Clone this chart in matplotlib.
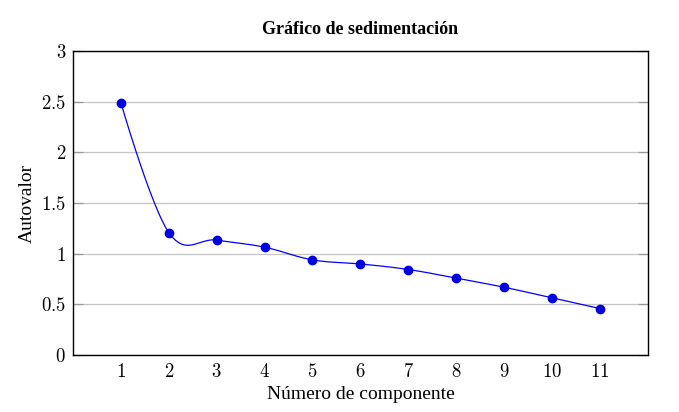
"""
Scree plot (Gráfico de sedimentación) with a pgfplots-like smooth line.
"""
import numpy as np
import matplotlib
matplotlib.use('Agg')
import matplotlib.pyplot as plt
from matplotlib.ticker import FuncFormatter

componentes = [1, 2, 3, 4, 5, 6, 7, 8, 9, 10, 11]
autovalores = [2.49, 1.21, 1.135, 1.065, 0.94, 0.90, 0.845, 0.76, 0.67, 0.565, 0.46]

y_ticks = [0, 0.5, 1, 1.5, 2, 2.5, 3]


def smooth_curve(xs, ys, tension=0.55, n=30):
    # tikz-style smooth: cubic bezier pieces, tangents from neighbours
    p = np.column_stack([xs, ys]).astype(float)
    k = tension / 3.0
    out = []
    last = len(p) - 2
    for i in range(len(p) - 1):
        p0 = p[i]
        p3 = p[i + 1]
        c1 = p0 if i == 0 else p0 + k * (p3 - p[i - 1])
        c2 = p3 if i == last else p3 - k * (p[i + 2] - p0)
        t = np.linspace(0, 1, n)[:, None]
        seg = ((1 - t) ** 3) * p0 + 3 * ((1 - t) ** 2) * t * c1 + 3 * (1 - t) * t ** 2 * c2 + t ** 3 * p3
        out.append(seg if i == 0 else seg[1:])
    seg = np.vstack(out)
    return seg[:, 0], seg[:, 1]


plt.rcParams['font.family'] = ['Liberation Serif', 'DejaVu Serif']
plt.rcParams['mathtext.fontset'] = 'cm'

fig = plt.figure(figsize=(6.79, 4.12), dpi=100)
ax = fig.add_axes([0.1075, 0.138, 0.8465, 0.738])

sx, sy = smooth_curve(componentes, autovalores)
ax.plot(sx, sy, color='#0000ff', linewidth=0.9, zorder=3)
ax.plot(componentes, autovalores, 'o', color='#0000e0', markersize=6, zorder=4)

ax.set_xlim(0, 12)
ax.set_ylim(0, 3)
ax.set_xticks(componentes)
ax.set_yticks(y_ticks)
fmt = FuncFormatter(lambda v, pos: f'${v:g}$')
ax.xaxis.set_major_formatter(fmt)
ax.yaxis.set_major_formatter(fmt)

ax.yaxis.grid(True, color='#c4c4c4', linewidth=0.9)
ax.set_axisbelow(True)
ax.tick_params(axis='x', length=0, labelsize=13.5, pad=6)
ax.tick_params(axis='y', direction='in', length=7, color='#9a9a9a', width=0.9,
               labelsize=13.5, right=True, pad=5)
for s in ax.spines.values():
    s.set_linewidth(1.0)

ax.set_title('Gráfico de sedimentación', fontsize=13, fontweight='bold', pad=12)
ax.set_xlabel('Número de componente', fontsize=14, labelpad=3)
ax.set_ylabel('Autovalor', fontsize=14, labelpad=4)

fig.savefig('out.png', dpi=100)
